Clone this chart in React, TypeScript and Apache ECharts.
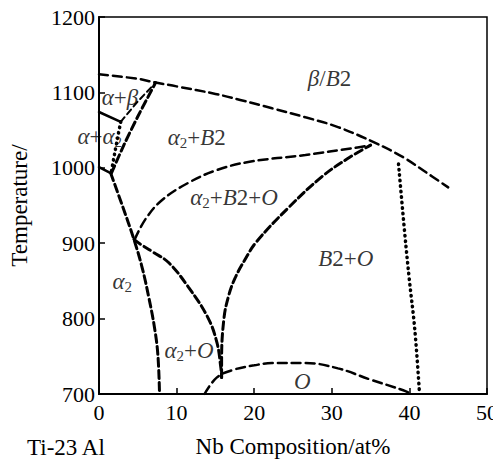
import React, { useEffect, useRef } from "react";
import * as echarts from "echarts";

const FONT = "Liberation Serif";

// Axes
const X_MIN = 0, X_MAX = 50, X_STEP = 10;
const Y_MIN = 700, Y_MAX = 1200, Y_STEP = 100;
const xAxisTitle = "Nb Composition/at%";
const yAxisTitle = "Temperature/";
const baseTitle = "Ti-23 Al";

// Phase boundaries (x = Nb at%, T = temperature)
const betaTransusX = [0, 5, 7.3, 10, 15, 18.2, 22.3, 26.6, 30.8, 35.6, 39.2, 42, 45];
const betaTransusT = [1124, 1118, 1113, 1108, 1098, 1090, 1079, 1067, 1054, 1033, 1014, 995, 974];

const alphaBetaSolidX = [0, 2.8];
const alphaBetaSolidT = [1074, 1061];

const alphaBetaUpperX = [2.8, 5, 7.3];
const alphaBetaUpperT = [1061, 1088, 1113];

const a2B2LeftX = [1.6, 3.2, 5, 7.3];
const a2B2LeftT = [993, 1030, 1068, 1113];

const alphaA2DotX = [2.8, 2.4, 2.0, 1.6];
const alphaA2DotT = [1061, 1040, 1018, 995];

const a2CornerX = [0, 1.5];
const a2CornerT = [1001, 993];

const a2BoundX = [1.5, 3, 4.5, 5.5, 6.4, 7.2, 7.6, 7.8];
const a2BoundT = [993, 950, 905, 870, 829, 785, 750, 700];

const a2OUpperX = [4.5, 5.3, 7, 9, 11.5, 14, 15.2, 15.7, 15.8];
const a2OUpperT = [905, 899, 888, 874, 842, 802, 768, 735, 722];

const a2B2OLowerX = [4.6, 6, 8.1, 11.5, 15.2, 19.4, 26.6, 33.3, 35];
const a2B2OLowerT = [905, 932, 957, 980, 997, 1008, 1017, 1027, 1030];

const b2OLeftX = [15.8, 15.8, 16.1, 16.7, 17.5, 18.8, 20.3, 24.5, 28.7, 32, 35];
const b2OLeftT = [722, 745, 800, 830, 853, 878, 902, 948, 988, 1012, 1030];

const oDomeX = [13.6, 15.2, 17.3, 20, 22.3, 26.6, 30.8, 35, 39.2, 40.3];
const oDomeT = [700, 722, 732, 738, 741, 741, 734, 719, 705, 700];

const b2ORightX = [38.6, 39.4, 40, 40.7, 41.3];
const b2ORightT = [1005, 913, 851, 785, 701];

// Phase field labels
const labelX = [29.7, 2.7, 0.1, 12.6, 17.4, 31.8, 3.0, 11.6, 26.2];
const labelT = [1118, 1093, 1041, 1040, 960, 880, 849, 758, 716];
const labelText = [
  "{i|β}{n|/}{i|B}{n|2}",
  "{i|α}{n|+}{i|β}",
  "{i|α}{n|+}{i|α}{s|2}",
  "{i|α}{s|2}{n|+}{i|B}{n|2}",
  "{i|α}{s|2}{n|+}{i|B}{n|2+}{i|O}",
  "{i|B}{n|2+}{i|O}",
  "{i|α}{s|2}",
  "{i|α}{s|2}{n|+}{i|O}",
  "{i|O}",
];

const zip = (xs: number[], ts: number[]) => xs.map((x, i) => [x, ts[i]]);

function lineSeries(name: string, xs: number[], ts: number[], width: number, type: any, smooth: number | boolean = 0.4) {
  return {
    name,
    type: "line",
    data: zip(xs, ts),
    showSymbol: false,
    symbol: "none",
    smooth,
    silent: true,
    z: 3,
    lineStyle: { color: "#000", width, type, cap: "round" as const },
  };
}

export default function App() {
  const ref = useRef<HTMLDivElement>(null);

  useEffect(() => {
    if (!ref.current) return;
    const chart = echarts.init(ref.current, undefined, { renderer: "svg" });
    const rich = {
      i: { fontFamily: FONT, fontSize: 23, fontStyle: "italic", color: "#000", lineHeight: 26 },
      n: { fontFamily: FONT, fontSize: 23, color: "#000", lineHeight: 26 },
      s: { fontFamily: FONT, fontSize: 15, color: "#000", lineHeight: 19, verticalAlign: "bottom" },
    };
    const DASH = [9, 5];
    const HEAVY = [8, 4];
    const DOT = [0.5, 5];
    chart.setOption({
      animation: false,
      textStyle: { fontFamily: FONT },
      grid: {
        left: 96, right: 9, top: 17, bottom: 73,
        show: true, borderColor: "#000", borderWidth: 1.5, backgroundColor: "transparent",
      },
      xAxis: {
        type: "value", min: X_MIN, max: X_MAX, interval: X_STEP,
        name: xAxisTitle, nameLocation: "middle", nameGap: 41,
        nameTextStyle: { fontFamily: FONT, fontSize: 23, color: "#000" },
        axisLine: { lineStyle: { color: "#000", width: 2 } },
        axisTick: { inside: true, length: 6, lineStyle: { color: "#000", width: 1.5 } },
        axisLabel: { fontFamily: FONT, fontSize: 22, color: "#000", margin: 7, formatter: (v: number) => String(v) },
        splitLine: { show: false },
      },
      yAxis: {
        type: "value", min: Y_MIN, max: Y_MAX, interval: Y_STEP,
        name: yAxisTitle, nameLocation: "middle", nameGap: 68, nameRotate: 90,
        nameTextStyle: { fontFamily: FONT, fontSize: 23, color: "#000" },
        axisLine: { lineStyle: { color: "#000", width: 2 } },
        axisTick: { inside: true, length: 6, lineStyle: { color: "#000", width: 1.5 } },
        axisLabel: { fontFamily: FONT, fontSize: 22, color: "#000", margin: 4, formatter: (v: number) => String(v) },
        splitLine: { show: false },
      },
      graphic: [
        {
          type: "text", left: 27, top: 436,
          style: { text: baseTitle, fontFamily: FONT, fontSize: 23, fill: "#000" },
        },
      ],
      series: [
        lineSeries("beta transus", betaTransusX, betaTransusT, 2.5, DASH),
        lineSeries("alpha+beta solid", alphaBetaSolidX, alphaBetaSolidT, 2.5, "solid", false),
        lineSeries("alpha+beta upper", alphaBetaUpperX, alphaBetaUpperT, 2, [6, 4], false),
        lineSeries("a2+B2 left", a2B2LeftX, a2B2LeftT, 3, HEAVY, 0.3),
        lineSeries("alpha+a2 dotted", alphaA2DotX, alphaA2DotT, 3.5, DOT, 0.3),
        lineSeries("a2 corner", a2CornerX, a2CornerT, 2.5, "solid", false),
        lineSeries("a2 boundary", a2BoundX, a2BoundT, 3, HEAVY, 0.4),
        lineSeries("a2+O upper", a2OUpperX, a2OUpperT, 3, HEAVY, 0.4),
        lineSeries("a2+B2+O lower", a2B2OLowerX, a2B2OLowerT, 2.5, DASH, 0.4),
        lineSeries("B2+O left", b2OLeftX, b2OLeftT, 3, HEAVY, 0.4),
        lineSeries("O dome", oDomeX, oDomeT, 2.5, DASH, 0.4),
        lineSeries("B2+O right", b2ORightX, b2ORightT, 3.5, DOT, 0.4),
        {
          name: "labels",
          type: "scatter",
          symbolSize: 0,
          silent: true,
          z: 5,
          data: labelX.map((x, i) => ({ value: [x, labelT[i]], text: labelText[i] })),
          label: {
            show: true,
            position: "inside",
            formatter: (p: any) => p.data.text,
            rich,
          },
        },
      ],
    });
    return () => chart.dispose();
  }, []);

  return <div ref={ref} style={{ width: 501, height: 467, margin: -8 }} />;
}
